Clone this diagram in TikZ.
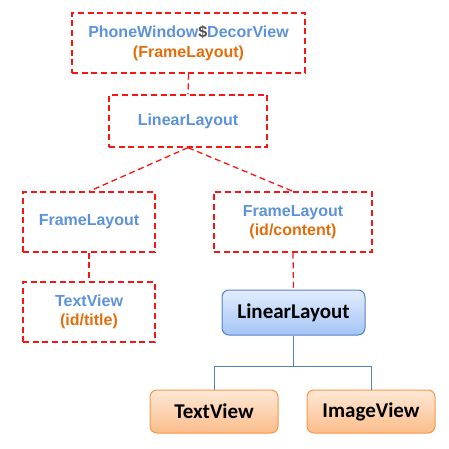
\documentclass[tikz,border=0pt]{standalone}
\usepackage{fontspec}
\setmainfont{Liberation Sans}
\newfontfamily\viewfont{Carlito}
\usetikzlibrary{calc,positioning}
\definecolor{viewblue}{RGB}{92,146,220}
\definecolor{vieworange}{RGB}{228,108,10}
\definecolor{dashred}{RGB}{250,20,20}
\definecolor{dollargray}{RGB}{80,80,80}
\definecolor{bluetop}{RGB}{226,237,253}
\definecolor{bluebot}{RGB}{164,196,245}
\definecolor{blueline}{RGB}{84,130,196}
\definecolor{orangetop}{RGB}{254,232,214}
\definecolor{orangebot}{RGB}{251,189,138}
\definecolor{orangeline}{RGB}{247,150,70}

\begin{document}
\begin{tikzpicture}[x=1pt,y=-1pt,
  framebox/.style={draw=dashred,line width=1.3pt,dash pattern=on 6pt off 3.7pt,
    inner sep=0pt,align=center,text=viewblue,
    font=\bfseries\fontsize{16}{19.5}\selectfont},
  framelink/.style={draw=dashred,line width=1.3pt,dash pattern=on 6pt off 3.7pt},
  viewbox/.style={draw=#1line,line width=1pt,rounded corners=7pt,inner sep=0pt,
    top color=#1top,bottom color=#1bot,
    font=\viewfont\bfseries\fontsize{21}{24}\selectfont},
  viewlink/.style={draw=blueline,line width=1pt}]
  \useasboundingbox (0,0) rectangle (449,449);
  % Fensterebene: gestrichelte Rahmen
  \node[framebox,minimum width=233pt,minimum height=60pt] (decor) at (188.5,43)
    {PhoneWindow\textcolor{dollargray}{\$}DecorView\\\textcolor{vieworange}{(FrameLayout)}};
  \node[framebox,minimum width=158pt,minimum height=52pt] (root) at (188,121) {LinearLayout};
  \node[framebox,minimum width=132pt,minimum height=60pt] (titleframe) at (89,222) {FrameLayout};
  \node[framebox,minimum width=158pt,minimum height=60pt] (content) at (293,222)
    {FrameLayout\\\textcolor{vieworange}{(id/content)}};
  \node[framebox,minimum width=132pt,minimum height=60pt] (title) at (89,312)
    {TextView\\\textcolor{vieworange}{(id/title)}};
  \draw[framelink] (decor.south) -- (root.north);
  \draw[framelink] (root.south) -- (titleframe.north);
  \draw[framelink] (root.south) -- (content.north);
  \draw[framelink] (titleframe.south) -- (title.north);
  % eigenes Layout: gefuellte Kaesten
  \node[viewbox=blue,minimum width=143pt,minimum height=45pt] (layout) at (293.5,312.5) {LinearLayout};
  \node[viewbox=orange,minimum width=128pt,minimum height=43pt] (text) at (214,411.5) {TextView};
  \node[viewbox=orange,minimum width=128pt,minimum height=43pt] (image) at (371,411.5) {ImageView};
  \draw[framelink] (content.south) -- (layout.north);
  \coordinate (fork) at ($(layout.south)+(0,31)$);
  \draw[viewlink] (layout.south) -- (fork);
  \draw[viewlink] (text.north) |- (fork) -| (image.north);
\end{tikzpicture}
\end{document}
